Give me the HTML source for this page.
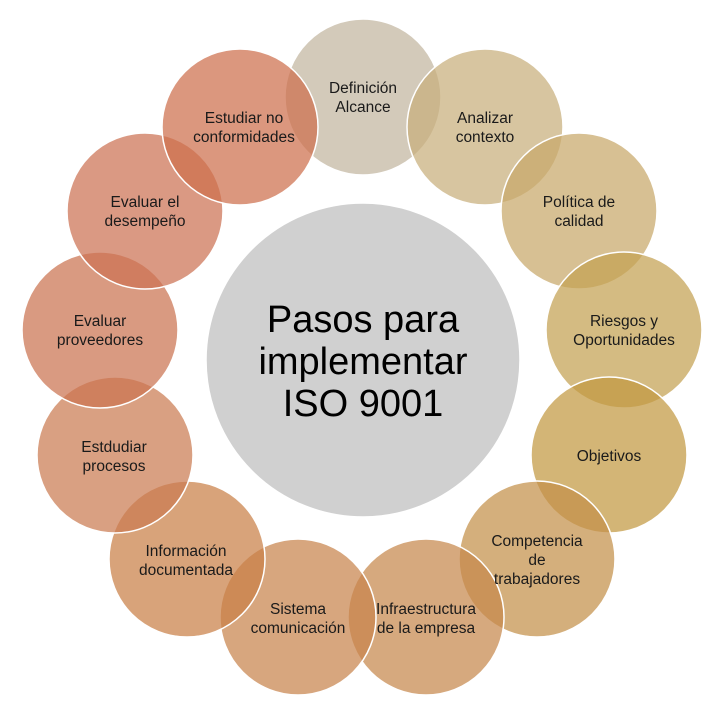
<!DOCTYPE html>
<html><head><meta charset="utf-8"><style>
html,body{margin:0;padding:0;background:#fff;}
svg{display:block;}
text{font-family:"Liberation Sans",sans-serif;fill:#1a1a1a;text-anchor:middle;}
.s{font-size:15.5px;}
.b{font-size:38px;fill:#000;}
</style></head><body>
<svg width="711" height="701" viewBox="0 0 711 701" xmlns="http://www.w3.org/2000/svg">
<circle cx="363" cy="360" r="157" fill="#d0d0d0" stroke="#fff" stroke-width="1.5"/>
<g stroke="#fff" stroke-width="1.5" fill-opacity="0.72">
<circle cx="363" cy="97" r="78" fill="#c2b5a0"/>
<circle cx="485" cy="127" r="78" fill="#c7af7c"/>
<circle cx="579" cy="211" r="78" fill="#c7a86a"/>
<circle cx="624" cy="330" r="78" fill="#c4a152"/>
<circle cx="609" cy="455" r="78" fill="#c29841"/>
<circle cx="537" cy="559" r="78" fill="#c4904a"/>
<circle cx="426" cy="617" r="78" fill="#c6884c"/>
<circle cx="298" cy="617" r="78" fill="#c8844c"/>
<circle cx="187" cy="559" r="78" fill="#c98047"/>
<circle cx="115" cy="455" r="78" fill="#ca7b52"/>
<circle cx="100" cy="330" r="78" fill="#cb7350"/>
<circle cx="145" cy="211" r="78" fill="#cc7253"/>
<circle cx="240" cy="127" r="78" fill="#cd6f4c"/>
</g>
<text class="b" x="363" y="332">Pasos para</text>
<text class="b" x="363" y="374">implementar</text>
<text class="b" x="363" y="416">ISO 9001</text>
<text class="s" x="363" y="93">Definición</text><text class="s" x="363" y="112">Alcance</text>
<text class="s" x="485" y="123">Analizar</text><text class="s" x="485" y="142">contexto</text>
<text class="s" x="579" y="207">Política de</text><text class="s" x="579" y="226">calidad</text>
<text class="s" x="624" y="326">Riesgos y</text><text class="s" x="624" y="345">Oportunidades</text>
<text class="s" x="609" y="461">Objetivos</text>
<text class="s" x="537" y="546">Competencia</text><text class="s" x="537" y="565">de</text><text class="s" x="537" y="584">trabajadores</text>
<text class="s" x="426" y="614">Infraestructura</text><text class="s" x="426" y="633">de la empresa</text>
<text class="s" x="298" y="614">Sistema</text><text class="s" x="298" y="633">comunicación</text>
<text class="s" x="186" y="556">Información</text><text class="s" x="186" y="575">documentada</text>
<text class="s" x="114" y="452">Estdudiar</text><text class="s" x="114" y="471">procesos</text>
<text class="s" x="100" y="326">Evaluar</text><text class="s" x="100" y="345">proveedores</text>
<text class="s" x="145" y="207">Evaluar el</text><text class="s" x="145" y="226">desempeño</text>
<text class="s" x="244" y="123">Estudiar no</text><text class="s" x="244" y="142">conformidades</text>
</svg>
</body></html>
